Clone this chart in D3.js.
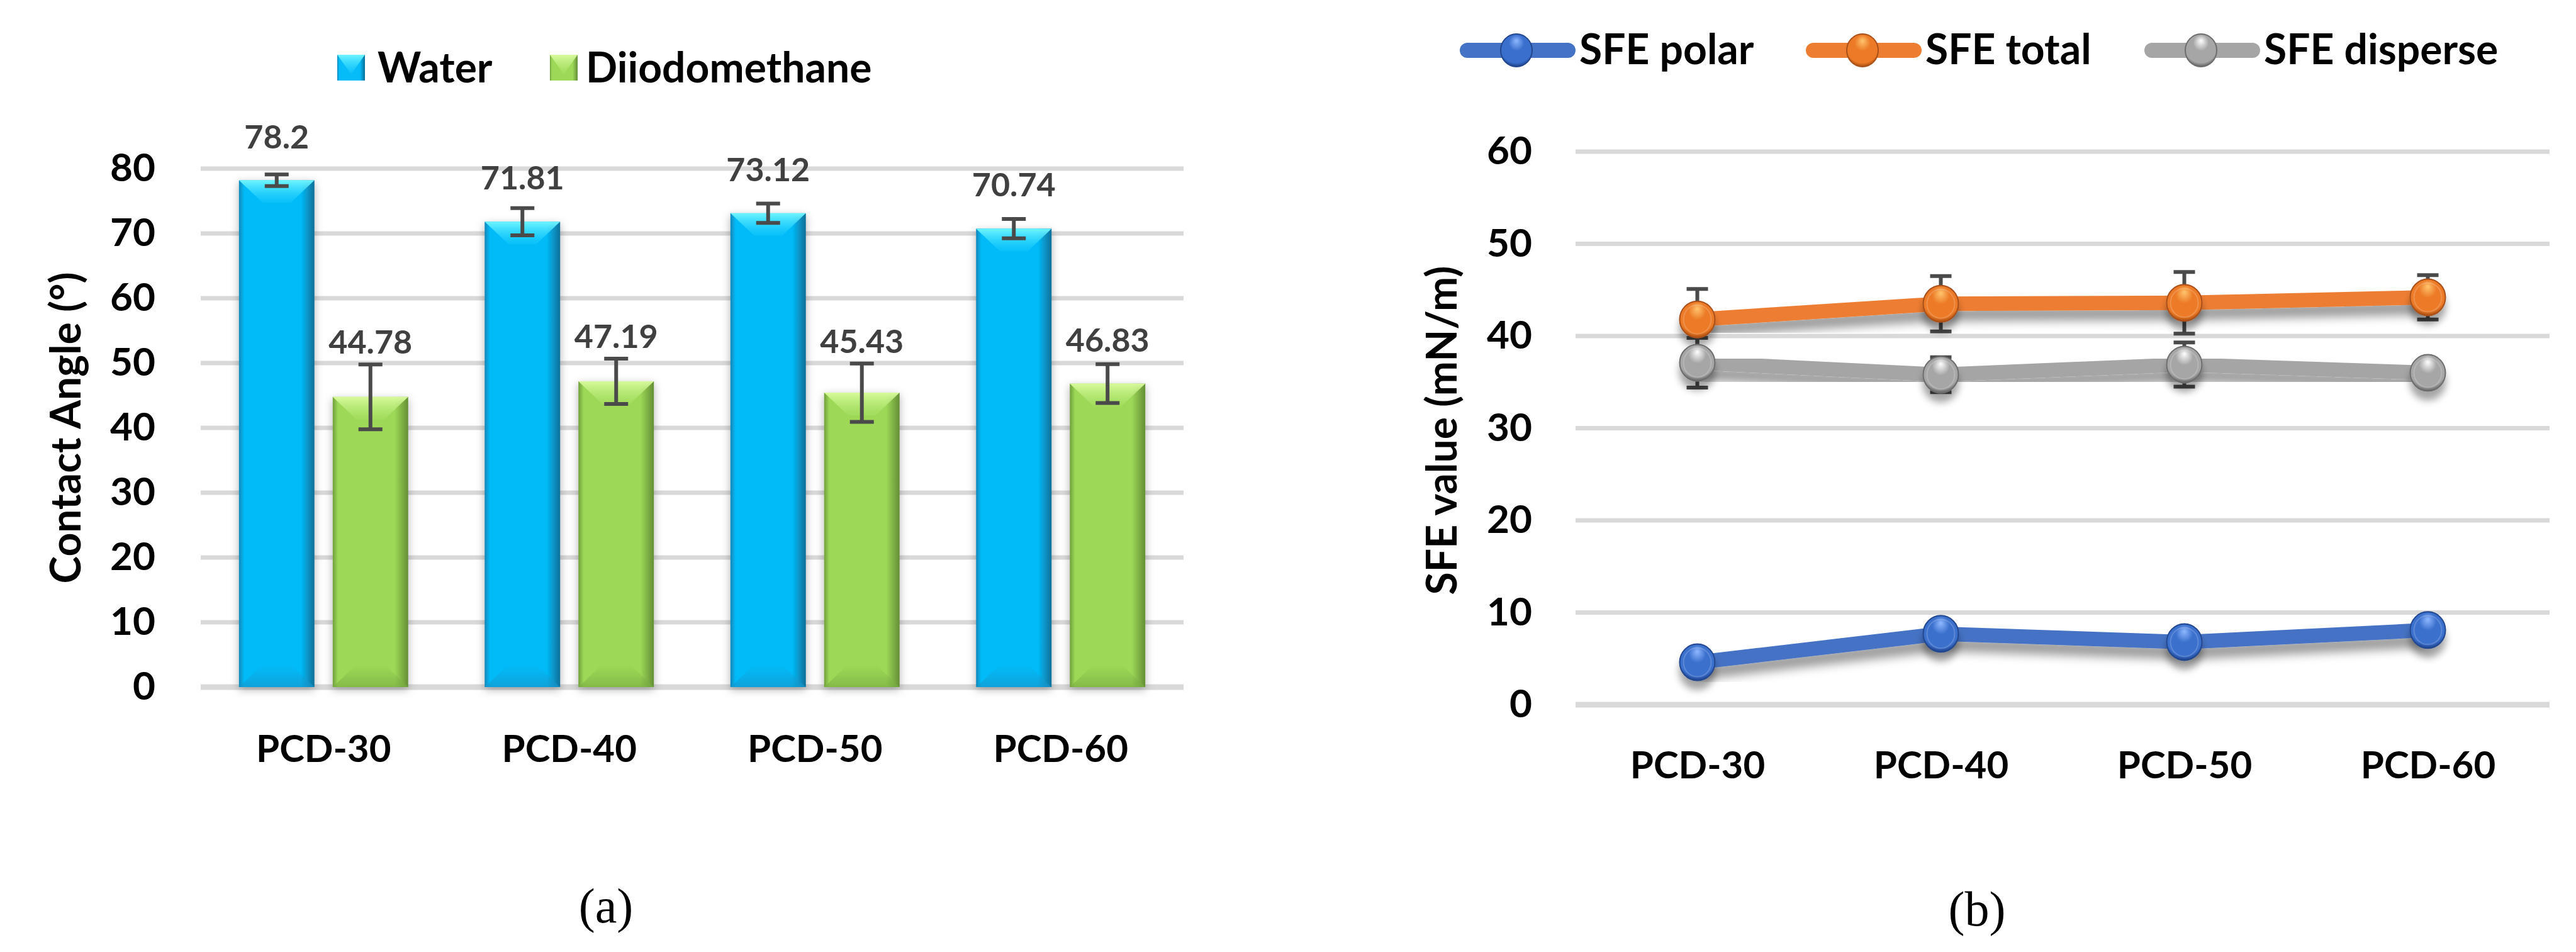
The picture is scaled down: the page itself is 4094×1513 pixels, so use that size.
<!DOCTYPE html>
<html>
<head>
<meta charset="utf-8">
<script src="https://cdn.jsdelivr.net/npm/d3@7"></script>
<style>
  body { margin: 0; background: #fff; }
  text { font-family: Lato, "Open Sans", sans-serif; font-weight: 700; }
  .caption { font-family: "Liberation Serif", "DejaVu Serif", serif; font-weight: 400; }
</style>
</head>
<body>
<script>
// ---- data ----
var categories = ["PCD-30", "PCD-40", "PCD-50", "PCD-60"];

var liquids = ["Water", "Diiodomethane"];
var waterAngle = [78.2, 71.81, 73.12, 70.74];
var waterErr = [0.9, 2.1, 1.5, 1.5];
var diiodoAngle = [44.78, 47.19, 45.43, 46.83];
var diiodoErr = [5.0, 3.5, 4.5, 3.0];
var angleTicks = [0, 10, 20, 30, 40, 50, 60, 70, 80];

var sfeNames = ["SFE polar", "SFE total", "SFE disperse"];
var sfePolar = [4.6, 7.7, 6.8, 8.1];
var sfeTotal = [41.8, 43.5, 43.6, 44.2];
var sfeTotalErr = [3.3, 3.0, 3.35, 2.4];
var sfeDisperse = [37.1, 35.8, 36.9, 36.0];
var sfeDisperseErr = [2.7, 1.9, 2.4, 1.3];
var sfeTicks = [0, 10, 20, 30, 40, 50, 60];

var W = 4094, H = 1513;

var svg = d3.select("body").append("svg")
    .attr("width", W)
    .attr("height", H)
    .style("display", "block");

svg.append("rect").attr("width", W).attr("height", H).attr("fill", "#fff");

var defs = svg.append("defs");

// bar gradients: darker edges, bright body
function barGradient(id, edgeL, body, edgeR) {
  var g = defs.append("linearGradient").attr("id", id)
      .attr("x1", "0%").attr("x2", "100%").attr("y1", "0%").attr("y2", "0%");
  g.append("stop").attr("offset", "0%").attr("stop-color", edgeL);
  g.append("stop").attr("offset", "7%").attr("stop-color", body);
  g.append("stop").attr("offset", "82%").attr("stop-color", body);
  g.append("stop").attr("offset", "100%").attr("stop-color", edgeR);
}
barGradient("gWater", "#0b86b8", "#05bbf8", "#0a6f98");
barGradient("gDiiodo", "#6f9f3c", "#9dd957", "#648e35");

function vGradient(id, c0, o0, c1, o1) {
  var g = defs.append("linearGradient").attr("id", id)
      .attr("x1", "0%").attr("x2", "0%").attr("y1", "0%").attr("y2", "100%");
  g.append("stop").attr("offset", "0%").attr("stop-color", c0).attr("stop-opacity", o0);
  g.append("stop").attr("offset", "100%").attr("stop-color", c1).attr("stop-opacity", o1);
}
vGradient("topWater", "#6ff5ff", 1, "#2ad6ff", 0.2);
vGradient("topDiiodo", "#d8fb9c", 1, "#b5ea78", 0.2);
vGradient("botWater", "#1a9fd6", 0, "#1596cc", 0.7);
vGradient("botDiiodo", "#7fb548", 0, "#78ad42", 0.7);

function sphere(id, light, base, dark) {
  var g = defs.append("radialGradient").attr("id", id)
      .attr("cx", "50%").attr("cy", "38%").attr("r", "62%").attr("fx", "50%").attr("fy", "20%");
  g.append("stop").attr("offset", "0%").attr("stop-color", light);
  g.append("stop").attr("offset", "40%").attr("stop-color", base);
  g.append("stop").attr("offset", "85%").attr("stop-color", base);
  g.append("stop").attr("offset", "100%").attr("stop-color", dark);
}
sphere("sPolar", "#8fb8ff", "#3a6fcd", "#1c3f86");
sphere("sTotal", "#ffc56e", "#ec7a26", "#a84c10");
sphere("sDisperse", "#ffffff", "#a6a6a6", "#5e5e5e");

function shadow(id, dy, sd, op) {
  defs.append("filter").attr("id", id)
      .attr("x", "-30%").attr("y", "-30%").attr("width", "160%").attr("height", "190%")
    .append("feDropShadow")
      .attr("dx", 0).attr("dy", dy).attr("stdDeviation", sd)
      .attr("flood-color", "#000").attr("flood-opacity", op);
}
shadow("barShadow", 4, 7, 0.3);
shadow("lineShadow", 16, 8, 0.4);
shadow("dotShadow", 14, 6, 0.35);

var gridColor = "#d9d9d9";
var errColor = "#4a4a4a";

// =================== panel (a) ===================
var a = svg.append("g");

var xA = d3.scaleBand().domain(categories).range([319, 1881]);
var xA1 = d3.scaleBand().domain(liquids).range([0, xA.bandwidth()])
    .paddingInner(0.195).paddingOuter(0.408);
var yA = d3.scaleLinear().domain([0, 80]).range([1092, 268]);

a.append("g").selectAll("line")
  .data(angleTicks)
  .join("line")
    .attr("x1", 319).attr("x2", 1881)
    .attr("y1", function(d) { return yA(d); })
    .attr("y2", function(d) { return yA(d); })
    .attr("stroke", gridColor)
    .attr("stroke-width", function(d) { return d === 0 ? 9 : 7; });

var yAxisA = a.append("g")
    .attr("transform", "translate(319,0)")
    .call(d3.axisLeft(yA).tickValues(angleTicks).tickSize(0).tickPadding(72));
yAxisA.select(".domain").remove();
yAxisA.selectAll("text").attr("font-size", 62).attr("fill", "#000")
    .style("font-family", "Lato, sans-serif").style("font-weight", 700);

var xAxisA = a.append("g")
    .attr("transform", "translate(0,1092)")
    .call(d3.axisBottom(xA).tickSize(0).tickPadding(76));
xAxisA.select(".domain").remove();
xAxisA.selectAll("text").attr("font-size", 60).attr("fill", "#000")
    .style("font-family", "Lato, sans-serif").style("font-weight", 700);

a.append("text")
    .attr("transform", "translate(128,680) rotate(-90)")
    .attr("text-anchor", "middle")
    .attr("font-size", 66)
    .text("Contact Angle (°)");

var barRows = [];
categories.forEach(function(c, i) {
  barRows.push({cat: c, liquid: "Water", v: waterAngle[i], e: waterErr[i], fill: "gWater", top: "topWater", bot: "botWater"});
  barRows.push({cat: c, liquid: "Diiodomethane", v: diiodoAngle[i], e: diiodoErr[i], fill: "gDiiodo", top: "topDiiodo", bot: "botDiiodo"});
});

var bw = xA1.bandwidth();
var bars = a.append("g").selectAll("g")
  .data(barRows)
  .join("g")
    .attr("transform", function(d) { return "translate(" + (xA(d.cat) + xA1(d.liquid)) + ",0)"; });

bars.append("rect")
    .attr("x", 0).attr("width", bw)
    .attr("y", function(d) { return yA(d.v); })
    .attr("height", function(d) { return yA(0) - yA(d.v); })
    .attr("fill", function(d) { return "url(#" + d.fill + ")"; })
    .attr("filter", "url(#barShadow)");

bars.append("path")
    .attr("d", function(d) {
      var t = yA(d.v);
      return "M0," + t + "L" + bw + "," + t + "L" + (bw - 38) + "," + (t + 36) + "L38," + (t + 36) + "Z";
    })
    .attr("fill", function(d) { return "url(#" + d.top + ")"; });

bars.append("path")
    .attr("d", function(d) {
      var b = yA(0);
      return "M0," + b + "L" + bw + "," + b + "L" + (bw - 38) + "," + (b - 36) + "L38," + (b - 36) + "Z";
    })
    .attr("fill", function(d) { return "url(#" + d.bot + ")"; });

var errA = bars.append("g")
    .attr("stroke", errColor).attr("stroke-width", 6);
errA.append("line")
    .attr("x1", bw / 2).attr("x2", bw / 2)
    .attr("y1", function(d) { return yA(d.v + d.e); })
    .attr("y2", function(d) { return yA(d.v - d.e); });
errA.append("line")
    .attr("x1", bw / 2 - 19).attr("x2", bw / 2 + 19)
    .attr("y1", function(d) { return yA(d.v + d.e); })
    .attr("y2", function(d) { return yA(d.v + d.e); });
errA.append("line")
    .attr("x1", bw / 2 - 19).attr("x2", bw / 2 + 19)
    .attr("y1", function(d) { return yA(d.v - d.e); })
    .attr("y2", function(d) { return yA(d.v - d.e); });

// value label sits above the bar, and clear of the error bar cap
bars.append("text")
    .attr("x", bw / 2)
    .attr("y", function(d) {
      var c = Math.min(yA(d.v) - 70, yA(d.v + d.e) - 36);
      return c + 19;
    })
    .attr("text-anchor", "middle")
    .attr("font-size", 52)
    .attr("fill", "#404040")
    .text(function(d) { return d.v; });

// legend (a)
var legA = a.append("g");
[{name: liquids[0], fill: "gWater", top: "topWater", x: 536, tx: 600},
 {name: liquids[1], fill: "gDiiodo", top: "topDiiodo", x: 874, tx: 931}].forEach(function(l) {
  legA.append("rect").attr("x", l.x).attr("y", 87).attr("width", 44).attr("height", 41)
      .attr("fill", "url(#" + l.fill + ")");
  legA.append("path")
      .attr("d", "M" + l.x + ",87L" + (l.x + 44) + ",87L" + (l.x + 22) + ",118Z")
      .attr("fill", "url(#" + l.top + ")");
  legA.append("text").attr("x", l.tx).attr("y", 131).attr("font-size", 66).text(l.name);
});

a.append("text").attr("class", "caption")
    .attr("x", 963).attr("y", 1466)
    .attr("text-anchor", "middle")
    .attr("font-size", 78)
    .text("(a)");

// =================== panel (b) ===================
var b = svg.append("g");

var xB = d3.scalePoint().domain(categories).range([2504, 4052]).padding(0.5);
var yB = d3.scaleLinear().domain([0, 60]).range([1120, 241]);

b.append("g").selectAll("line")
  .data(sfeTicks)
  .join("line")
    .attr("x1", 2504).attr("x2", 4052)
    .attr("y1", function(d) { return yB(d); })
    .attr("y2", function(d) { return yB(d); })
    .attr("stroke", gridColor)
    .attr("stroke-width", function(d) { return d === 0 ? 9 : 7; });

var yAxisB = b.append("g")
    .attr("transform", "translate(2504,0)")
    .call(d3.axisLeft(yB).tickValues(sfeTicks).tickSize(0).tickPadding(69));
yAxisB.select(".domain").remove();
yAxisB.selectAll("text").attr("font-size", 62).attr("fill", "#000")
    .style("font-family", "Lato, sans-serif").style("font-weight", 700);

var xAxisB = b.append("g")
    .attr("transform", "translate(0,1120)")
    .call(d3.axisBottom(xB).tickSize(0).tickPadding(74));
xAxisB.select(".domain").remove();
xAxisB.selectAll("text").attr("font-size", 60).attr("fill", "#000")
    .style("font-family", "Lato, sans-serif").style("font-weight", 700);

b.append("text")
    .attr("transform", "translate(2315,684) rotate(-90)")
    .attr("text-anchor", "middle")
    .attr("font-size", 66)
    .text("SFE value (mN/m)");

var series = [
  {name: sfeNames[0], values: sfePolar, err: null, color: "#4472c4", sphere: "sPolar", rim: "#22478e"},
  {name: sfeNames[1], values: sfeTotal, err: sfeTotalErr, color: "#ed7d31", sphere: "sTotal", rim: "#a9501a"},
  {name: sfeNames[2], values: sfeDisperse, err: sfeDisperseErr, color: "#a5a5a5", sphere: "sDisperse", rim: "#6d6d6d"}
];

var line = d3.line()
    .x(function(d, i) { return xB(categories[i]); })
    .y(function(d) { return yB(d); });

// error bars sit behind the lines and markers
var errB = b.append("g").attr("stroke", errColor).attr("stroke-width", 6);
series.forEach(function(s) {
  if (!s.err) return;
  s.values.forEach(function(v, i) {
    var cx = xB(categories[i]);
    errB.append("line").attr("x1", cx).attr("x2", cx)
        .attr("y1", yB(v + s.err[i])).attr("y2", yB(v - s.err[i]));
    errB.append("line").attr("x1", cx - 17).attr("x2", cx + 17)
        .attr("y1", yB(v + s.err[i])).attr("y2", yB(v + s.err[i]));
    errB.append("line").attr("x1", cx - 17).attr("x2", cx + 17)
        .attr("y1", yB(v - s.err[i])).attr("y2", yB(v - s.err[i]));
  });
});

series.slice().reverse().forEach(function(s) {
  b.append("path")
      .datum(s.values)
      .attr("d", line)
      .attr("fill", "none")
      .attr("stroke", s.color)
      .attr("stroke-width", 23)
      .attr("stroke-linejoin", "miter")
      .attr("filter", "url(#lineShadow)");
});

series.forEach(function(s) {
  var g = b.append("g").selectAll("g")
    .data(s.values)
    .join("g")
      .attr("transform", function(d, i) { return "translate(" + xB(categories[i]) + "," + yB(d) + ")"; });
  g.append("ellipse")
      .attr("rx", 28).attr("ry", 29)
      .attr("fill", "url(#" + s.sphere + ")")
      .attr("stroke", s.rim).attr("stroke-width", 2)
      .attr("filter", "url(#dotShadow)");
  g.append("ellipse")
      .attr("rx", 22).attr("ry", 23)
      .attr("fill", "none")
      .attr("stroke", "#fff").attr("stroke-opacity", 0.18).attr("stroke-width", 2);
});

// legend (b)
var legB = b.append("g");
var legX = [2322, 2872, 3410];
series.forEach(function(s, i) {
  var x0 = legX[i];
  legB.append("line")
      .attr("x1", x0 + 10).attr("x2", x0 + 170)
      .attr("y1", 80).attr("y2", 80)
      .attr("stroke", s.color).attr("stroke-width", 24)
      .attr("stroke-linecap", "round");
  legB.append("ellipse")
      .attr("cx", x0 + 88).attr("cy", 80)
      .attr("rx", 25).attr("ry", 26)
      .attr("fill", "url(#" + s.sphere + ")")
      .attr("stroke", s.rim).attr("stroke-width", 2);
  legB.append("text")
      .attr("x", x0 + 188).attr("y", 102)
      .attr("font-size", 66)
      .text(s.name);
});

b.append("text").attr("class", "caption")
    .attr("x", 3142).attr("y", 1471)
    .attr("text-anchor", "middle")
    .attr("font-size", 78)
    .text("(b)");
</script>
</body>
</html>
